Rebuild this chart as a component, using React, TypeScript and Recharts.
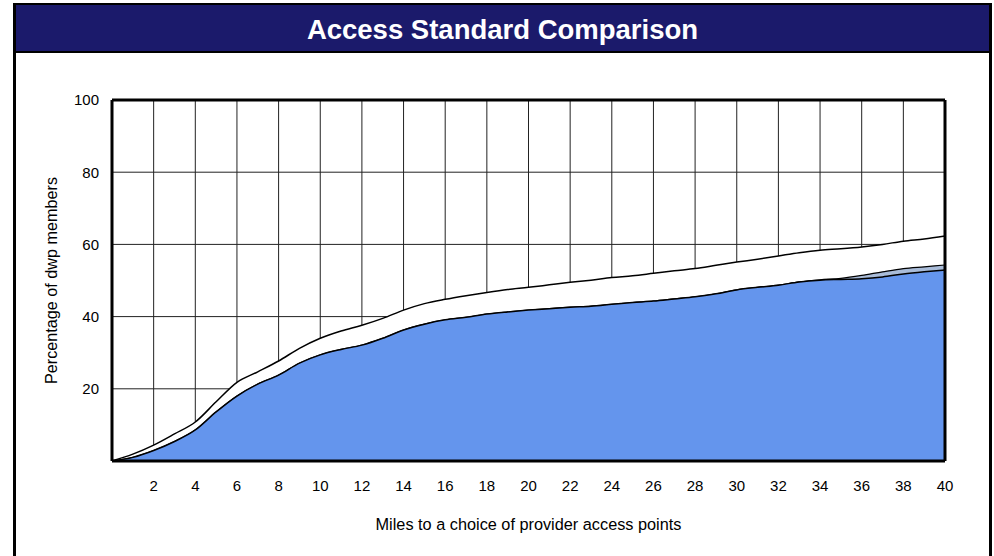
import React from "react";
import { AreaChart, Area, XAxis, YAxis, CartesianGrid, ReferenceLine, Label } from "recharts";

const miles = [0, 1, 2, 3, 4, 5, 6, 7, 8, 9, 10, 11, 12, 13, 14, 15, 16, 17, 18, 19, 20, 21, 22, 23, 24, 25, 26, 27, 28, 29, 30, 31, 32, 33, 34, 35, 36, 37, 38, 39, 40];
const standardA = [0, 1.9, 4.4, 7.5, 10.8, 16.4, 21.8, 24.7, 27.7, 31.2, 34.0, 36.0, 37.6, 39.5, 41.8, 43.6, 44.8, 45.8, 46.7, 47.5, 48.1, 48.8, 49.5, 50.1, 50.8, 51.3, 52.0, 52.7, 53.3, 54.2, 55.1, 55.9, 56.8, 57.7, 58.4, 58.8, 59.3, 60.0, 60.9, 61.5, 62.3];
const standardB = [0, 1.0, 2.9, 5.4, 8.6, 13.6, 18.0, 21.3, 23.8, 27.1, 29.4, 30.9, 32.1, 34.0, 36.3, 37.9, 39.1, 39.8, 40.7, 41.3, 41.8, 42.2, 42.6, 42.9, 43.4, 43.9, 44.3, 44.9, 45.5, 46.3, 47.4, 48.1, 48.7, 49.6, 50.2, 50.6, 51.4, 52.4, 53.3, 53.8, 54.3];
const standardC = [0, 1.0, 2.9, 5.4, 8.6, 13.6, 18.0, 21.3, 23.8, 27.1, 29.4, 30.9, 32.1, 34.0, 36.3, 37.9, 39.1, 39.8, 40.7, 41.3, 41.8, 42.2, 42.6, 42.9, 43.4, 43.9, 44.3, 44.9, 45.5, 46.3, 47.4, 48.1, 48.7, 49.6, 50.1, 50.3, 50.5, 51.0, 51.8, 52.4, 52.9];
const xTicks = [2, 4, 6, 8, 10, 12, 14, 16, 18, 20, 22, 24, 26, 28, 30, 32, 34, 36, 38, 40];
const yTicks = [20, 40, 60, 80, 100];

const data = miles.map((m, i) => ({ miles: m, a: standardA[i], b: standardB[i], c: standardC[i] }));

const font = "'Liberation Sans', Arial, sans-serif";

export default function App() {
    return (
        <div style={{ position: "absolute", left: 0, top: 0, width: 994, height: 556, background: "#fff", overflow: "hidden", fontFamily: font }}>
            <div style={{ position: "absolute", left: 13, top: 3, width: 979, height: 580, border: "3px solid #000", boxSizing: "border-box" }} />
            <div
                style={{
                    position: "absolute", left: 16, top: 5, width: 973, height: 46, background: "#1b1a6b",
                    borderBottom: "2px solid #000", color: "#fff", fontWeight: "bold", fontSize: 27.5,
                    textAlign: "center", lineHeight: "50px",
                }}
            >
                Access Standard Comparison
            </div>
            <div style={{ position: "absolute", left: 0, top: 0 }}>
                <AreaChart width={994} height={556} data={data} margin={{ top: 100, right: 49, left: 52, bottom: 55 }}>
                    <CartesianGrid stroke="#222" strokeWidth={1} />
                    <XAxis
                        dataKey="miles" type="number" domain={[0, 40]} ticks={xTicks} interval={0}
                        height={40} tickSize={0} tickMargin={19} tickLine={false}
                        axisLine={{ stroke: "#000", strokeWidth: 3 }}
                        tick={{ fill: "#000", fontSize: 15, fontFamily: font }}
                    >
                        <Label
                            content={({ viewBox }: any) => (
                                <text x={viewBox.x + viewBox.width / 2} y={viewBox.y + 69} textAnchor="middle" fontSize={16.3} fontFamily={font} fill="#000">
                                    Miles to a choice of provider access points
                                </text>
                            )}
                        />
                    </XAxis>
                    <YAxis
                        type="number" domain={[0, 100]} ticks={yTicks} interval={0}
                        width={60} tickSize={0} tickMargin={13} tickLine={false}
                        axisLine={{ stroke: "#000", strokeWidth: 3 }}
                        tick={{ fill: "#000", fontSize: 15, fontFamily: font }}
                    >
                        <Label
                            content={({ viewBox }: any) => {
                                const cx = viewBox.x + 5;
                                const cy = viewBox.y + viewBox.height / 2;
                                return (
                                    <text x={cx} y={cy} transform={`rotate(-90 ${cx} ${cy})`} textAnchor="middle" fontSize={16.2} fontFamily={font} fill="#000">
                                        Percentage of dwp members
                                    </text>
                                );
                            }}
                        />
                    </YAxis>
                    <Area type="monotone" dataKey="a" stroke="#000" strokeWidth={1.5} fill="#ffffff" fillOpacity={1} isAnimationActive={false} />
                    <Area type="monotone" dataKey="b" stroke="#000" strokeWidth={1.2} fill="#a9bcd9" fillOpacity={1} isAnimationActive={false} />
                    <Area type="monotone" dataKey="c" stroke="#000" strokeWidth={1.5} fill="#6495ed" fillOpacity={1} isAnimationActive={false} />
                    <ReferenceLine y={100} stroke="#000" strokeWidth={3} ifOverflow="visible" />
                    <ReferenceLine x={40} stroke="#000" strokeWidth={3} ifOverflow="visible" />
                </AreaChart>
            </div>
        </div>
    );
}
